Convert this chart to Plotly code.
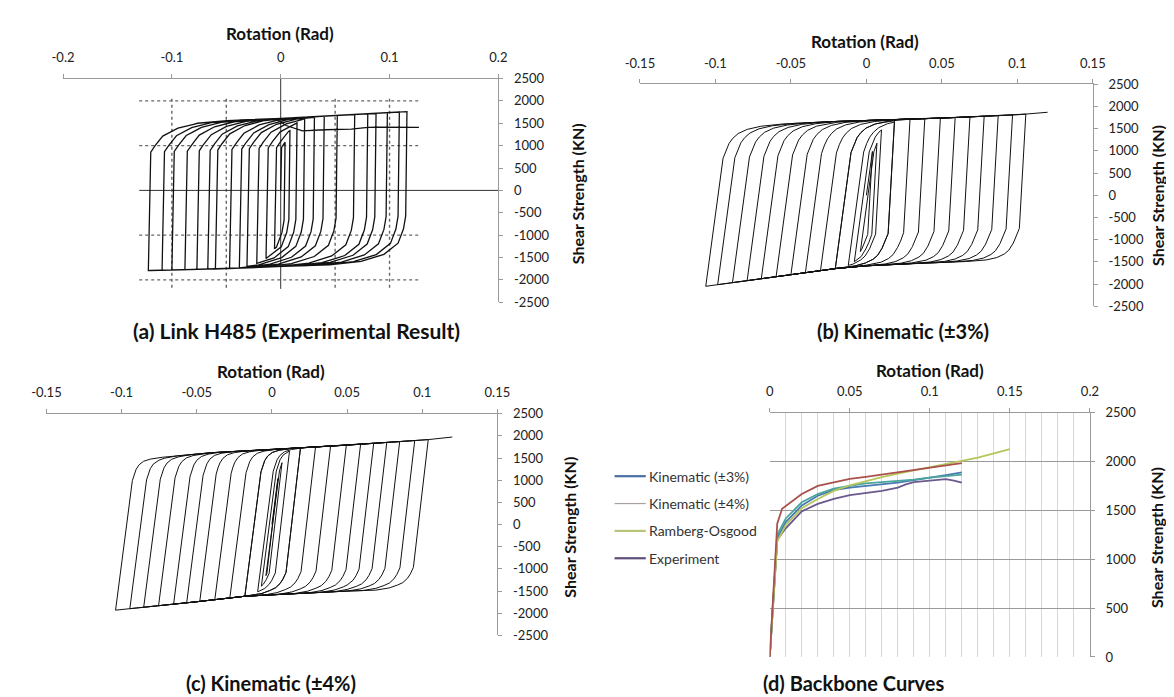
import numpy as np
import plotly.graph_objects as go

W, H = 1174, 697
FONT = "Lato, 'Open Sans', sans-serif"

# ---------------- Panel (a) experimental loops (read values) ----------------
a_pos_amp = [0.004, 0.0085, 0.015, 0.022, 0.031, 0.04, 0.052, 0.068, 0.08, 0.0876, 0.098, 0.109, 0.116]
a_neg_amp = [0.0057, 0.0135, 0.022, 0.031, 0.038, 0.047, 0.06, 0.067, 0.077, 0.088, 0.1, 0.109, 0.1216]
a_top_env_x = [-0.13, -0.08, -0.04, 0.0, 0.05, 0.1, 0.13]
a_top_env_y = [1500, 1530, 1570, 1610, 1670, 1740, 1780]
a_bot_env_x = [-0.13, -0.12, -0.05, 0.0, 0.05, 0.13]
a_bot_env_y = [-1810, -1790, -1750, -1700, -1660, -1600]
a_up_K, a_up_dx, a_up_gap = 1.2e6, [0, 0.004, 0.011, 0.025, 0.043, 0.07], [650, 508, 300, 128, 33, 0]
a_dn_K, a_dn_dx, a_dn_gap = 2.0e6, [0, 0.002, 0.007, 0.02, 0.041, 0.07], [1040, 755, 438, 198, 55, 0]
a_last_x = -0.005
a_deg_x = [0.005, 0.02, 0.04, 0.065, 0.08, 0.09, 0.127]
a_deg_y = [1450, 1330, 1355, 1370, 1410, 1415, 1410]
a_dot_y = [2000, 1000, -1000, -2000]
a_dot_x = [-0.1, -0.05, 0.05, 0.1]

# ---------------- Panel (b) Kinematic ±3% ----------------
b_pos_amp = [0.004, 0.007, 0.01, 0.0186, 0.0186, 0.0289, 0.0387, 0.049, 0.0588, 0.0686, 0.078, 0.0873, 0.0968, 0.1056]
b_neg_amp = [0.004, 0.008, 0.012, 0.0206, 0.0206, 0.0304, 0.0404, 0.05, 0.0598, 0.0696, 0.079, 0.0887, 0.0985, 0.1064]
b_final = 0.12
b_top_env_x = [-0.13, -0.02, 0.05, 0.1, 0.13]
b_top_env_y = [1490, 1665, 1740, 1815, 1900]
b_bot_env_x = [-0.13, -0.106, -0.05, -0.02, 0.0, 0.03, 0.06, 0.13]
b_bot_env_y = [-2140, -2050, -1790, -1650, -1590, -1540, -1500, -1420]
b_up_K, b_up_dx, b_up_gap = 2.5e5, [0, 0.002, 0.004, 0.0065, 0.01, 0.016, 0.025, 0.04], [710, 520, 380, 270, 170, 85, 30, 0]
b_dn_K, b_dn_dx, b_dn_gap = 6.0e5, [0, 0.002, 0.004, 0.007, 0.01, 0.015, 0.022, 0.035], [705, 520, 380, 222, 140, 65, 20, 0]

# ---------------- Panel (c) Kinematic ±4% ----------------
c_pos_amp = [0.004, 0.0067, 0.0117, 0.019, 0.019, 0.029, 0.039, 0.0495, 0.059, 0.0677, 0.0764, 0.085, 0.095, 0.104]
c_neg_amp = [0.004, 0.007, 0.0095, 0.018, 0.018, 0.028, 0.038, 0.048, 0.0567, 0.0654, 0.0754, 0.0853, 0.0945, 0.104]
c_final = 0.12
c_top_env_x = [-0.13, -0.075, -0.04, 0.0, 0.05, 0.104, 0.13]
c_top_env_y = [1420, 1510, 1620, 1690, 1790, 1915, 2010]
c_bot_env_x = [-0.13, -0.104, -0.05, -0.018, 0.0, 0.05, 0.13]
c_bot_env_y = [-2020, -1930, -1740, -1616, -1580, -1500, -1410]
c_up_K, c_up_dx, c_up_gap = 2.6e5, [0, 0.0012, 0.0025, 0.0045, 0.0075, 0.012, 0.02], [490, 350, 240, 140, 66, 25, 0]
c_dn_K, c_dn_dx, c_dn_gap = 2.9e5, [0, 0.002, 0.004, 0.007, 0.0105, 0.016, 0.025], [485, 340, 240, 150, 99, 40, 0]

# ---------------- Panel (d) backbone curves ----------------
kin3_x = [0, 0.0047, 0.01, 0.02, 0.03, 0.04, 0.05, 0.06, 0.07, 0.08, 0.09, 0.1, 0.11, 0.12]
kin3_y = [0, 1217, 1380, 1550, 1650, 1707, 1733, 1750, 1767, 1783, 1810, 1833, 1862, 1890]
kin4_x = [0, 0.0047, 0.0077, 0.0118, 0.02, 0.03, 0.04, 0.05, 0.06, 0.07, 0.081, 0.091, 0.101, 0.111, 0.12]
kin4_y = [0, 1367, 1517, 1567, 1667, 1750, 1790, 1823, 1843, 1867, 1890, 1917, 1943, 1963, 1983]
aux_x = [0, 0.0047, 0.01, 0.02, 0.03, 0.04, 0.05, 0.06, 0.07, 0.08, 0.09, 0.1, 0.11, 0.12]
aux_y = [0, 1250, 1417, 1583, 1667, 1723, 1750, 1777, 1790, 1800, 1815, 1835, 1850, 1867]
ro_x = [0, 0.0047, 0.01, 0.02, 0.03, 0.04, 0.05, 0.06, 0.07, 0.08, 0.09, 0.1, 0.11, 0.12, 0.13, 0.14, 0.15]
ro_y = [0, 1183, 1350, 1523, 1617, 1700, 1757, 1800, 1840, 1877, 1910, 1943, 1977, 2007, 2040, 2083, 2127]
exp_x = [0, 0.0047, 0.01, 0.02, 0.03, 0.04, 0.05, 0.06, 0.07, 0.08, 0.085, 0.09, 0.1, 0.11, 0.115, 0.12]
exp_y = [0, 1200, 1317, 1490, 1567, 1617, 1657, 1677, 1700, 1733, 1767, 1790, 1805, 1820, 1805, 1785]
legend_names = ["Kinematic (±3%)", "Kinematic (±4%)", "Ramberg-Osgood", "Experiment"]
legend_colors = ["#4a6fa5", "#a8a0a0", "#b9c47a", "#5e4d78"]

cycle_ticks = [-0.15, -0.1, -0.05, 0, 0.05, 0.1, 0.15]
cycle_text = ["-0.15", "-0.1", "-0.05", "0", "0.05", "0.1", "0.15"]
a_ticks = [-0.2, -0.1, 0, 0.1, 0.2]
a_text = ["-0.2", "-0.1", "0", "0.1", "0.2"]
y_ticks = list(range(-2500, 2501, 500))
d_xticks = [0, 0.05, 0.1, 0.15, 0.2]
d_xtext = ["0", "0.05", "0.1", "0.15", "0.2"]
d_yticks = [0, 500, 1000, 1500, 2000, 2500]


def up_branch(x0, y0, x1, ex, ey, K, tdx, tgap):
    e0 = np.interp(x0, ex, ey)
    dk = max((e0 - tgap[0] - y0) / K, 0.0)
    if x0 + dk >= x1:
        return [x1], [y0 + K * (x1 - x0)]
    xk = x0 + dk
    cand = [xk + d for d in tdx] + list(ex) + [x1]
    cand = sorted(set(c for c in cand if xk <= c <= x1))
    ys = [float(np.interp(c, ex, ey) - np.interp(c - xk, tdx, tgap)) for c in cand]
    return cand, ys


def dn_branch(x0, y0, x1, ex, ey, K, tdx, tgap):
    e0 = np.interp(x0, ex, ey)
    dk = max((y0 - (e0 + tgap[0])) / K, 0.0)
    if x0 - dk <= x1:
        return [x1], [y0 - K * (x0 - x1)]
    xk = x0 - dk
    cand = [xk - d for d in tdx] + list(ex) + [x1]
    cand = sorted(set(c for c in cand if x1 <= c <= xk), reverse=True)
    ys = [float(np.interp(c, ex, ey) + np.interp(xk - c, tdx, tgap)) for c in cand]
    return cand, ys


def loops(pos, neg, final, tex, tey, bex, bey, up, dn):
    X, Y = [0.0], [0.0]
    x, y = 0.0, 0.0
    for p, n in zip(pos, neg):
        xs, ys = up_branch(x, y, p, tex, tey, *up)
        X += xs; Y += ys; x, y = xs[-1], ys[-1]
        xs, ys = dn_branch(x, y, -n, bex, bey, *dn)
        X += xs; Y += ys; x, y = xs[-1], ys[-1]
    xs, ys = up_branch(x, y, final, tex, tey, *up)
    X += xs; Y += ys
    return X, Y


ax_a, ay_a = loops(a_pos_amp, a_neg_amp, a_last_x, a_top_env_x, a_top_env_y, a_bot_env_x, a_bot_env_y,
                   (a_up_K, a_up_dx, a_up_gap), (a_dn_K, a_dn_dx, a_dn_gap))
ax_a += a_deg_x
ay_a += a_deg_y
bx, by = loops(b_pos_amp, b_neg_amp, b_final, b_top_env_x, b_top_env_y, b_bot_env_x, b_bot_env_y,
               (b_up_K, b_up_dx, b_up_gap), (b_dn_K, b_dn_dx, b_dn_gap))
cx, cy = loops(c_pos_amp, c_neg_amp, c_final, c_top_env_x, c_top_env_y, c_bot_env_x, c_bot_env_y,
               (c_up_K, c_up_dx, c_up_gap), (c_dn_K, c_dn_dx, c_dn_gap))

fig = go.Figure()
fig.add_trace(go.Scatter(x=ax_a, y=ay_a, mode="lines", line=dict(color="#111", width=1.3),
                         xaxis="x", yaxis="y", hoverinfo="skip"))
fig.add_trace(go.Scatter(x=bx, y=by, mode="lines", line=dict(color="#111", width=1),
                         xaxis="x2", yaxis="y2", hoverinfo="skip"))
fig.add_trace(go.Scatter(x=cx, y=cy, mode="lines", line=dict(color="#111", width=1),
                         xaxis="x3", yaxis="y3", hoverinfo="skip"))

d_series = [
    (exp_x, exp_y, "#6a5a8e"),
    (kin3_x, kin3_y, "#4a78b4"),
    (aux_x, aux_y, "#4aa59a"),
    (ro_x, ro_y, "#b7c65c"),
    (kin4_x, kin4_y, "#a8514e"),
]
for xs, ys, col in d_series:
    fig.add_trace(go.Scatter(x=xs, y=ys, mode="lines", line=dict(color=col, width=1.8),
                             xaxis="x4", yaxis="y4", hoverinfo="skip"))


def xdom(p0, p1):
    return [p0 / W, p1 / W]


def ydom(ptop, pbot):
    return [1 - pbot / H, 1 - ptop / H]


tickfont = dict(family=FONT, size=13, color="#222")
common_x = dict(side="top", showline=True, linecolor="#9a9a9a", linewidth=1, ticks="outside",
                ticklen=4, tickcolor="#9a9a9a", showgrid=False, zeroline=False, tickfont=tickfont,
                ticklabelstandoff=6)
common_y = dict(side="right", showline=True, linecolor="#9a9a9a", linewidth=1, ticks="outside",
                ticklen=4, tickcolor="#9a9a9a", showgrid=False, zeroline=False, tickfont=tickfont,
                ticklabelstandoff=8, tickvals=y_ticks, ticktext=[str(v) for v in y_ticks],
                range=[-2500, 2500])

fig.update_layout(
    width=W, height=H, margin=dict(l=0, r=0, t=0, b=0),
    paper_bgcolor="white", plot_bgcolor="white", showlegend=False,
    xaxis=dict(common_x, domain=xdom(41, 487), range=[-0.2, 0.2], anchor="y",
               tickvals=a_ticks, ticktext=a_text),
    yaxis=dict(common_y, domain=ydom(64, 293), anchor="x"),
    xaxis2=dict(common_x, domain=xdom(632, 1096), range=[-0.15, 0.15], anchor="y2",
                tickvals=cycle_ticks, ticktext=cycle_text),
    yaxis2=dict(common_y, domain=ydom(70, 297), anchor="x2"),
    xaxis3=dict(common_x, domain=xdom(24, 486), range=[-0.15, 0.15], anchor="y3",
                tickvals=cycle_ticks, ticktext=cycle_text),
    yaxis3=dict(common_y, domain=ydom(407, 634), anchor="x3"),
    xaxis4=dict(common_x, domain=xdom(765, 1093), range=[0, 0.2], anchor="y4",
                tickvals=d_xticks, ticktext=d_xtext, showgrid=True, gridcolor="#d6d6d6",
                minor=dict(dtick=0.01, showgrid=True, gridcolor="#d6d6d6", gridwidth=1)),
    yaxis4=dict(common_y, domain=ydom(406, 656), anchor="x4", range=[0, 2500],
                tickvals=d_yticks, ticktext=[str(v) for v in d_yticks],
                showgrid=True, gridcolor="#9a9a9a"),
)

shapes = []
for yv in a_dot_y:
    shapes.append(dict(type="line", xref="x", yref="y", x0=-0.13, x1=0.127, y0=yv, y1=yv,
                       line=dict(color="#666", width=1.4, dash="dot"), layer="below"))
for xv in a_dot_x:
    shapes.append(dict(type="line", xref="x", yref="y", x0=xv, x1=xv, y0=2050, y1=-2200,
                       line=dict(color="#666", width=1.4, dash="dot"), layer="below"))
shapes.append(dict(type="line", xref="x", yref="y", x0=-0.13, x1=0.2, y0=0, y1=0,
                   line=dict(color="#333", width=1), layer="below"))
shapes.append(dict(type="line", xref="x", yref="y", x0=0, x1=0, y0=2500, y1=-2200,
                   line=dict(color="#333", width=1), layer="below"))

# custom legend for panel (d)
leg_y = [471, 499, 527, 555]
annotations = []
for name, col, py in zip(legend_names, legend_colors, leg_y):
    shapes.append(dict(type="line", xref="paper", yref="paper", x0=606 / W, x1=638 / W,
                       y0=1 - py / H, y1=1 - py / H,
                       line=dict(color=col, width=2.2 if col != "#a8a0a0" else 1.2)))
    annotations.append(dict(xref="paper", yref="paper", x=639 / W, y=1 - py / H, text=name,
                            showarrow=False, xanchor="left", yanchor="middle",
                            font=dict(family=FONT, size=14, color="#333")))


def ann(text, px, py, size, angle=0):
    annotations.append(dict(xref="paper", yref="paper", x=px / W, y=1 - py / H, text=text,
                            showarrow=False, xanchor="center", yanchor="middle", textangle=angle,
                            font=dict(family=FONT, size=size, color="#111")))


ann("<b>Rotation (Rad)</b>", 263, 18, 17)
ann("<b>Rotation (Rad)</b>", 863, 26, 17)
ann("<b>Rotation (Rad)</b>", 254, 364, 17)
ann("<b>Rotation (Rad)</b>", 929, 363, 17)
ann("<b>Shear Strength (KN)</b>", 568, 182, 16, -90)
ann("<b>Shear Strength (KN)</b>", 1163, 184, 16, -90)
ann("<b>Shear Strength (KN)</b>", 560, 523, 16, -90)
ann("<b>Shear Strength (KN)</b>", 1161, 534, 16, -90)
ann("<b>(a) Link H485 (Experimental Result)</b>", 280, 322, 21)
ann("<b>(b) Kinematic (±3%)</b>", 901, 322, 20)
ann("<b>(c) Kinematic (±4%)</b>", 254, 683, 20)
ann("<b>(d) Backbone Curves</b>", 851, 683, 20)

fig.update_layout(shapes=shapes, annotations=annotations)
fig.write_html("out.html")
